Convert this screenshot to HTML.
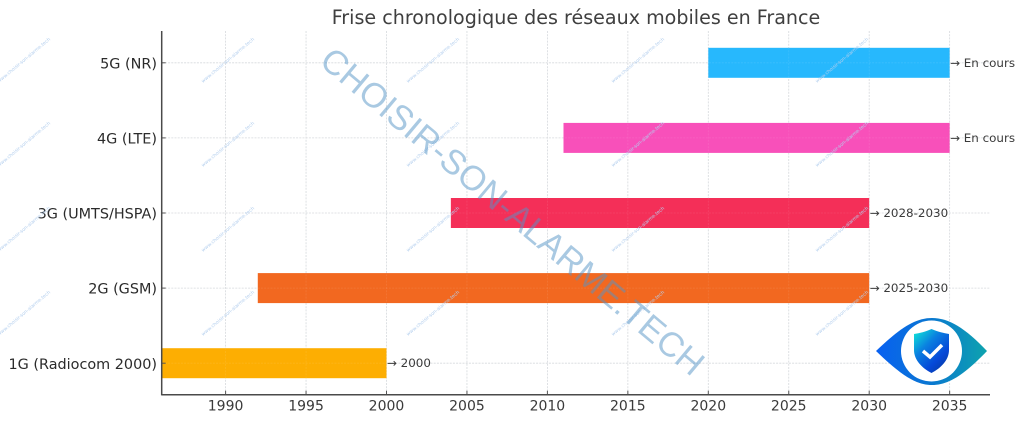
<!DOCTYPE html>
<html lang="fr">
<head>
<meta charset="utf-8">
<title>Frise chronologique des réseaux mobiles en France</title>
<style>
html,body{margin:0;padding:0;background:#fff;width:1024px;height:422px;overflow:hidden}
svg{display:block;font-family:"DejaVu Sans","Liberation Sans",sans-serif}
</style>
</head>
<body>
<svg id="chart" width="1024" height="422" viewBox="0 0 1024 422" xmlns="http://www.w3.org/2000/svg">
  <defs>
    <clipPath id="plot-clip"><rect x="162" y="31" width="828" height="364"/></clipPath>
    <linearGradient id="eye-grad" x1="0" x2="1" y1="0" y2="0">
      <stop offset="0" stop-color="#0860f2"/><stop offset="0.5" stop-color="#0a78d0"/><stop offset="1" stop-color="#0ea3ae"/>
    </linearGradient>
    <linearGradient id="shield-grad" x1="0.1" x2="0.9" y1="0" y2="1">
      <stop offset="0" stop-color="#0ee0d8"/><stop offset="0.35" stop-color="#0a80e0"/><stop offset="0.7" stop-color="#0648d8"/><stop offset="1" stop-color="#063a9a"/>
    </linearGradient>
  </defs>
  <text x="576" y="24" text-anchor="middle" font-size="19.1" fill="#3f3f3f">Frise chronologique des réseaux mobiles en France</text>
  <g id="grid"></g>
  <g id="bars" clip-path="url(#plot-clip)"></g>
  <g id="grid-over"></g>
  <g id="axes"></g>
  <g id="annotations"></g>
  <g id="small-marks"></g>
  <text transform="translate(512 212) rotate(40)" text-anchor="middle" dominant-baseline="central" font-size="34.6" style="font-family:'Liberation Sans',sans-serif" fill="#5393c5" fill-opacity="0.5">CHOISIR-SON-ALARME.TECH</text>
  <g>
    <path d="M876 351 C900 328 915 318 932 318 C949 318 965 328 987 351 C965 374 949 385 932 385 C915 385 900 374 876 351 Z" fill="url(#eye-grad)"/>
    <circle cx="931.5" cy="351" r="30.5" fill="#fff"/>
    <path d="M931.5 329 C938 332 944 333 949 334 L949 350 C949 360 941 368 931.5 373 C922 368 914 360 914 350 L914 334 C920 333 925 332 931.5 329 Z" fill="url(#shield-grad)"/>
    <path d="M923 351 L930 357 L942 345" fill="none" stroke="#fff" stroke-width="3.5"/>
  </g>
</svg>
<script>
const categories = ["1G (Radiocom 2000)", "2G (GSM)", "3G (UMTS/HSPA)", "4G (LTE)", "5G (NR)"];
const startYears = [1986, 1992, 2004, 2011, 2020];
const endYears = [2000, 2030, 2030, 2035, 2035];
const endLabels = ["→ 2000", "→ 2025-2030", "→ 2028-2030", "→ En cours", "→ En cours"];
const barColors = ["#fdae02", "#f26820", "#f42f58", "#f850ba", "#27b8fd"];
const xTicks = [1990, 1995, 2000, 2005, 2010, 2015, 2020, 2025, 2030, 2035];

const NS = "http://www.w3.org/2000/svg";
const PLOT_LEFT = 161.7, PLOT_RIGHT = 990, PLOT_TOP = 31, PLOT_BOTTOM = 394.7;
function xScale(year) { return 225.6 + (year - 1990) * 16.09; }
function yScale(index) { return 363.2 - index * 75.1; }
function mk(tag, attrs, parent, text) {
  const el = document.createElementNS(NS, tag);
  for (const k in attrs) el.setAttribute(k, attrs[k]);
  if (text !== undefined) el.textContent = text;
  parent.appendChild(el);
  return el;
}
const grid = document.getElementById("grid");
const gridOver = document.getElementById("grid-over");
const bars = document.getElementById("bars");
const axes = document.getElementById("axes");
const annotations = document.getElementById("annotations");
const smallMarks = document.getElementById("small-marks");

function drawGrid(parent, color) {
  xTicks.forEach(function (t) {
    const l = mk("line", {x1: xScale(t), x2: xScale(t), y1: PLOT_TOP, y2: PLOT_BOTTOM, stroke: color, "stroke-width": 0.8, "stroke-dasharray": "2 1.2"}, parent);
    
    
  });
  categories.forEach(function (c, i) {
    const l = mk("line", {x1: PLOT_LEFT, x2: PLOT_RIGHT, y1: yScale(i), y2: yScale(i), stroke: color, "stroke-width": 0.8, "stroke-dasharray": "2 1.2"}, parent);
    
    
  });
}
drawGrid(grid, "#d3d6da");

categories.forEach(function (c, i) {
  const r = mk("rect", {x: xScale(startYears[i]), y: yScale(i) - 15, width: xScale(endYears[i]) - xScale(startYears[i]), height: 30, fill: barColors[i]}, bars);
  
  

  const a = mk("text", {x: xScale(endYears[i]) + 0.4, y: yScale(i) + 4, "font-size": 11.9, fill: "#3a3a3a"}, annotations, endLabels[i]);
  
  

  const tk = mk("line", {x1: PLOT_LEFT, x2: PLOT_LEFT + 4, y1: yScale(i), y2: yScale(i), stroke: "#555", "stroke-width": 1}, axes);
  
  

  const lb = mk("text", {x: 157, y: yScale(i) + 5.6, "text-anchor": "end", "font-size": 14.4, fill: "#2b2b2b"}, axes, c);
  
  
});

drawGrid(gridOver, "rgba(255,255,255,0.1)");

xTicks.forEach(function (t) {
  const tk = mk("line", {x1: xScale(t), x2: xScale(t), y1: PLOT_BOTTOM - 4, y2: PLOT_BOTTOM, stroke: "#555", "stroke-width": 1}, axes);
  
  

  const lb = mk("text", {x: xScale(t), y: 410.5, "text-anchor": "middle", "font-size": 14, fill: "#3a3a3a"}, axes, String(t));
  
  
});

const ySpine = mk("line", {x1: PLOT_LEFT, x2: PLOT_LEFT, y1: PLOT_TOP, y2: PLOT_BOTTOM + 0.7, stroke: "#4a4a4a", "stroke-width": 1.5}, axes);


const xSpine = mk("line", {x1: PLOT_LEFT, x2: PLOT_RIGHT, y1: PLOT_BOTTOM, y2: PLOT_BOTTOM, stroke: "#4a4a4a", "stroke-width": 1.5}, axes);



[-1, 203, 408, 613, 817].forEach(function (wx) {
  [83, 167, 252, 336].forEach(function (wy) {
    const w = mk("text", {transform: "translate(" + wx + " " + wy + ") rotate(-40)", "font-size": 4.7, fill: "#b4cfee"}, smallMarks, "www.choisir-son-alarme.tech");
    
    
  });
});
</script>
</body>
</html>
